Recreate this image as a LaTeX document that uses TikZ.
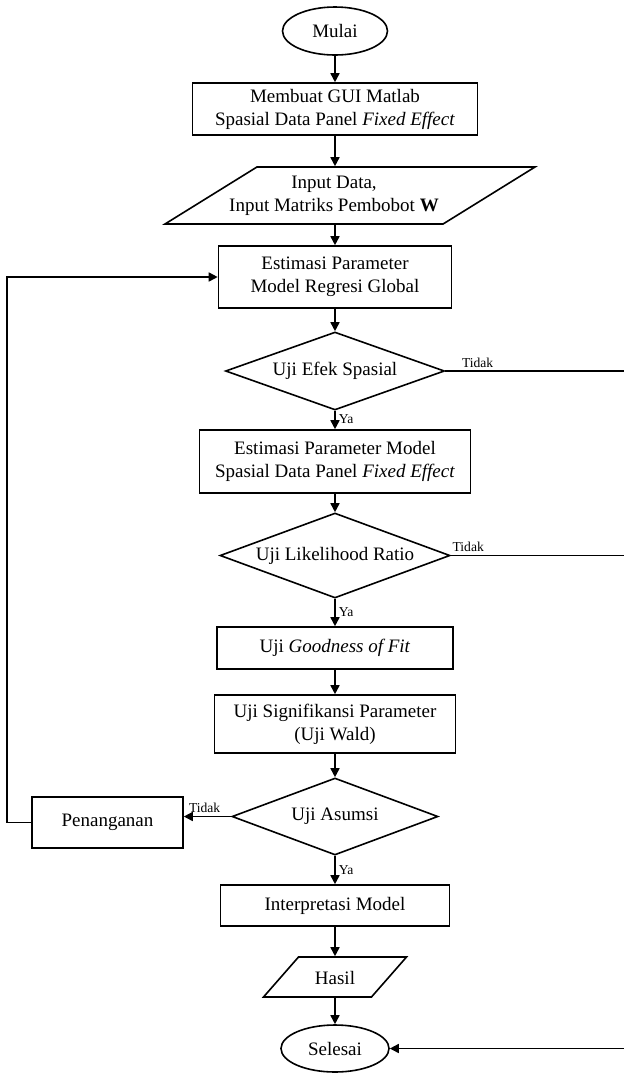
\documentclass[tikz,border=0pt]{standalone}
\usepackage{fontspec}
\setmainfont{Liberation Serif}
\usetikzlibrary{shapes.geometric,arrows.meta}

\begin{document}
\begin{tikzpicture}[x=0.5pt, y=-0.5pt, line width=0.8pt,
    teks/.style ={font=\fontsize{9.5}{11.5}\selectfont, align=center},
    terminal/.style ={ellipse, draw, teks, inner sep=0pt},
    proses/.style ={rectangle, draw, teks, inner sep=0pt},
    data/.style ={trapezium, draw, teks, inner xsep=0pt, trapezium stretches body},
    keputusan/.style ={diamond, draw, teks, inner sep=0pt, aspect=2.8},
    ket/.style ={font=\fontsize{6.8}{8}\selectfont, inner sep=1.5pt},
    panah/.style ={-{Triangle[length=4.5pt,width=4.5pt]}}]
   \useasboundingbox (0,0) rectangle (624,1073);

   \node[terminal, minimum width=52.5pt, minimum height=24pt] (mulai) at (335,31) {Mulai};
   \node[proses, minimum width=142.5pt, minimum height=26pt] (gui) at (335,109) {Membuat GUI Matlab\\Spasial Data Panel \textit{Fixed Effect}};
   \node[data, trapezium left angle=31.8, trapezium right angle=148.2,
         text height=0pt, text depth=0pt, inner ysep=14.25pt, minimum width=185pt] (input) at (350,195.5) {};
   \node[teks] (inputteks) at (334,195.5) {Input Data,\\Input Matriks Pembobot \textbf{W}};
   \node[proses, minimum width=116.5pt, minimum height=31pt] (global) at (335,277) {Estimasi Parameter\\Model Regresi Global};
   \node[keputusan, minimum width=109.5pt, minimum height=39pt] (efek) at (335,371) {Uji Efek Spasial};
   \node[proses, minimum width=135.5pt, minimum height=31.5pt] (spasial) at (335,461.5) {Estimasi Parameter Model\\Spasial Data Panel \textit{Fixed Effect}};
   \node[keputusan, minimum width=115pt, minimum height=42.5pt] (lr) at (335,555.5) {Uji Likelihood Ratio};
   \node[proses, minimum width=118pt, minimum height=21pt] (gof) at (335,648) {Uji \textit{Goodness of Fit}};
   \node[proses, minimum width=120.5pt, minimum height=29pt] (wald) at (335,724) {Uji Signifikansi Parameter\\(Uji Wald)};
   \node[keputusan, minimum width=103pt, minimum height=38.5pt] (asumsi) at (335,816.5) {Uji Asumsi};
   \node[proses, minimum width=75.5pt, minimum height=25.5pt] (penanganan) at (107.5,822.5) {Penanganan};
   \node[proses, minimum width=114.5pt, minimum height=20.5pt] (interpretasi) at (335,905.5) {Interpretasi Model};
   \node[data, trapezium left angle=48.8, trapezium right angle=131.2,
         text height=7pt, text depth=0pt, inner ysep=6.5pt, minimum width=71.5pt] (hasil) at (335,977) {Hasil};
   \node[terminal, minimum width=54pt, minimum height=23.5pt] (selesai) at (335,1048.5) {Selesai};

   \coordinate (kanan1) at (625,371);
   \coordinate (kanan2) at (625,555.5);
   \coordinate (kiri) at (7,822.5);

   \draw[panah] (mulai) to (gui);
   \draw[panah] (gui) to (gui |- input.north);
   \draw[panah] (input.south -| global) to (global);
   \draw[panah] (global) to (efek);
   \draw[panah] (efek) to node[ket, right, pos=0.45] {Ya} (spasial);
   \draw[panah] (spasial) to (lr);
   \draw[panah] (lr) to node[ket, right, pos=0.5] {Ya} (gof);
   \draw[panah] (gof) to (wald);
   \draw[panah] (wald) to (asumsi);
   \draw[panah] (asumsi) to node[ket, right, pos=0.5] {Ya} (interpretasi);
   \draw[panah] (interpretasi) to (hasil);
   \draw[panah] (hasil) to (selesai);
   \draw[panah] (asumsi.west) to node[ket, above, pos=0.56] {Tidak} (asumsi.west -| penanganan.east);
   \draw[panah] (penanganan.west) -- (kiri) |- (global);
   \draw (efek.east) to node[ket, above, pos=0.18] {Tidak} (kanan1);
   \draw[panah] (kanan1) |- (selesai);
   \draw (lr.east) to node[ket, above, pos=0.1] {Tidak} (kanan2);
 \end{tikzpicture}
\end{document}
